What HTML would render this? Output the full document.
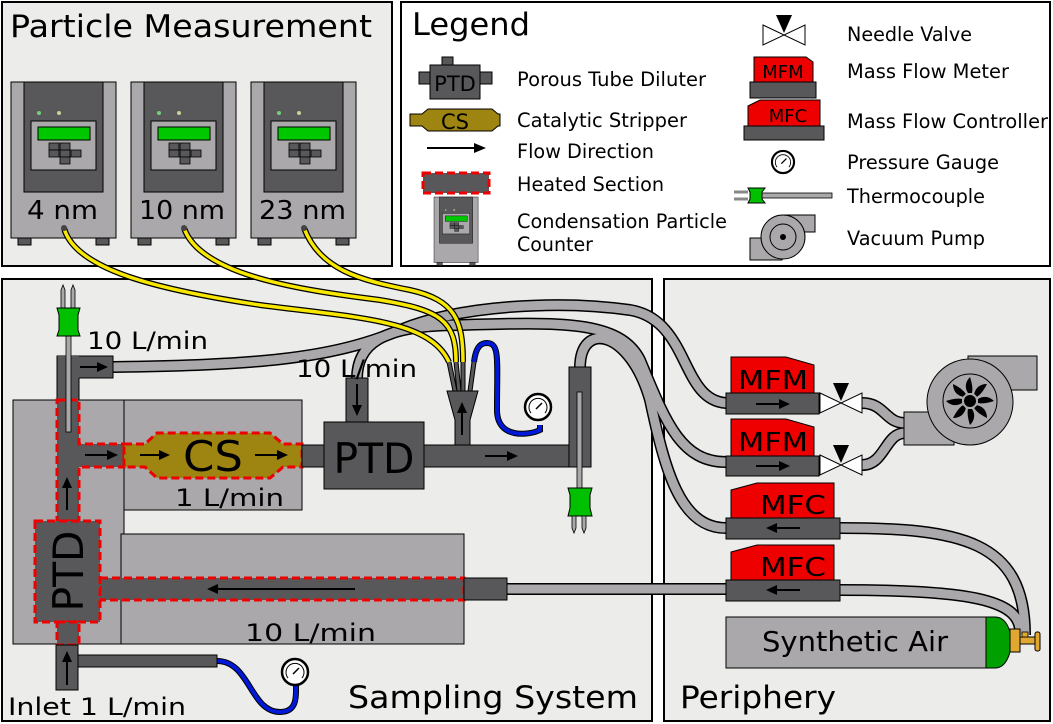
<!DOCTYPE html>
<html><head><meta charset="utf-8"><style>
html,body{margin:0;padding:0;background:#fff}
svg{display:block}
text{font-family:"DejaVu Sans","Liberation Sans",sans-serif;fill:#000}
</style></head><body>
<svg width="1053" height="724" viewBox="0 0 1053 724" xmlns="http://www.w3.org/2000/svg">
<defs>
<g id="cpc">
 <rect x="0" y="0" width="105" height="156" fill="#aaa8aa" stroke="#000" stroke-width="1"/>
 <rect x="13" y="0" width="79" height="110" fill="#58585a" stroke="#000" stroke-width="1"/>
 <circle cx="28" cy="31" r="2" fill="#7c7" />
 <circle cx="48" cy="31" r="2" fill="#cc9"/>
 <rect x="20" y="39" width="65" height="49" fill="#aaa8aa" stroke="#000" stroke-width="1"/>
 <rect x="27" y="45" width="52" height="13" fill="#00c800" stroke="#000" stroke-width="1"/>
 <rect x="38" y="61" width="10" height="7" fill="#58585a" stroke="#000" stroke-width="0.8"/>
 <rect x="49" y="61" width="10" height="7" fill="#58585a" stroke="#000" stroke-width="0.8"/>
 <rect x="38" y="68" width="10" height="7" fill="#58585a" stroke="#000" stroke-width="0.8"/>
 <rect x="49" y="68" width="10" height="7" fill="#58585a" stroke="#000" stroke-width="0.8"/>
 <rect x="60" y="68" width="10" height="7" fill="#58585a" stroke="#000" stroke-width="0.8"/>
 <rect x="49" y="75" width="10" height="7" fill="#58585a" stroke="#000" stroke-width="0.8"/>
 <rect x="7" y="156" width="13" height="7" fill="#58585a" stroke="#000" stroke-width="1"/>
 <rect x="85" y="156" width="13" height="7" fill="#58585a" stroke="#000" stroke-width="1"/>
</g>
<g id="gauge">
 <circle cx="0" cy="0" r="13" fill="#fff" stroke="#000" stroke-width="2.5"/>
 <path d="M-7,6 A9,9 0 1 1 7,6" fill="none" stroke="#000" stroke-width="1"/>
 <line x1="-2" y1="2" x2="4" y2="-4" stroke="#000" stroke-width="1.5"/>
</g>
<g id="valve">
 <path d="M0,-10 L42,10 L42,-10 L0,10 Z" fill="#fff" stroke="#000" stroke-width="1"/>
 <path d="M13,-20 L29,-20 L21,-2 Z" fill="#000"/>
</g>
</defs>

<!-- Panels -->
<rect x="2" y="2" width="390" height="264" fill="#ececea" stroke="#000" stroke-width="2"/>
<rect x="401" y="2" width="649" height="264" fill="#fff" stroke="#000" stroke-width="2"/>
<rect x="2" y="279" width="650" height="442" fill="#ececea" stroke="#000" stroke-width="2"/>
<rect x="664" y="279" width="386" height="442" fill="#ececea" stroke="#000" stroke-width="2"/>

<text x="10" y="37" font-size="31" textLength="362" lengthAdjust="spacingAndGlyphs">Particle Measurement</text>

<!-- CPCs -->
<use href="#cpc" x="11" y="82"/>
<use href="#cpc" x="131" y="82"/>
<use href="#cpc" x="251" y="82"/>
<text x="27" y="219" font-size="26" textLength="71" lengthAdjust="spacingAndGlyphs">4 nm</text>
<text x="139" y="219" font-size="26" textLength="86" lengthAdjust="spacingAndGlyphs">10 nm</text>
<text x="259" y="219" font-size="26" textLength="87" lengthAdjust="spacingAndGlyphs">23 nm</text>

<!-- Legend -->
<text x="412" y="35" font-size="31" textLength="118" lengthAdjust="spacingAndGlyphs">Legend</text>
<rect x="442" y="57" width="11" height="12" fill="#58585a" stroke="#000"/>
<rect x="419" y="72" width="73" height="12" fill="#58585a" stroke="#000"/>
<rect x="430" y="65" width="50" height="34" fill="#58585a" stroke="#000"/>
<text x="455" y="91" font-size="21" text-anchor="middle">PTD</text>
<text x="517" y="86" font-size="19.5" textLength="189" lengthAdjust="spacingAndGlyphs">Porous Tube Diluter</text>
<path d="M410,114 L422,114 L428,109 L492,109 L498,114 L500,114 L500,126 L498,126 L492,131 L428,131 L422,126 L410,126 Z" fill="#9e8410" stroke="#000"/>
<text x="455" y="129" font-size="21" text-anchor="middle">CS</text>
<text x="517" y="127" font-size="19.5" textLength="170" lengthAdjust="spacingAndGlyphs">Catalytic Stripper</text>
<line x1="427" y1="148" x2="478" y2="148" stroke="#000" stroke-width="2"/>
<path d="M486,148 L474,143 L474,153 Z" fill="#000"/>
<text x="517" y="158" font-size="19.5" textLength="137" lengthAdjust="spacingAndGlyphs">Flow Direction</text>
<rect x="423" y="173" width="66" height="20" fill="#58585a" stroke="#e00" stroke-width="3" stroke-dasharray="8,4"/>
<text x="517" y="191" font-size="19.5" textLength="147" lengthAdjust="spacingAndGlyphs">Heated Section</text>
<g transform="translate(434,197) scale(0.42)"><use href="#cpc"/></g>
<text x="517" y="228" font-size="19.5" textLength="210" lengthAdjust="spacingAndGlyphs">Condensation Particle</text>
<text x="517" y="251" font-size="19.5" textLength="76" lengthAdjust="spacingAndGlyphs">Counter</text>

<use href="#valve" x="763" y="35"/>
<text x="847" y="41" font-size="19.5" textLength="125" lengthAdjust="spacingAndGlyphs">Needle Valve</text>
<path d="M754,57 L806,57 L813,62 L813,82 L754,82 Z" fill="#e00" stroke="#000"/>
<rect x="750" y="82" width="66" height="16" fill="#58585a" stroke="#000"/>
<text x="783" y="78" font-size="18" text-anchor="middle">MFM</text>
<text x="847" y="78" font-size="19.5" textLength="162" lengthAdjust="spacingAndGlyphs">Mass Flow Meter</text>
<path d="M748,106 L760,100 L820,100 L820,126 L748,126 Z" fill="#e00" stroke="#000"/>
<rect x="744" y="126" width="80" height="14" fill="#58585a" stroke="#000"/>
<text x="788" y="122" font-size="18" text-anchor="middle">MFC</text>
<text x="847" y="128" font-size="19.5" textLength="201" lengthAdjust="spacingAndGlyphs">Mass Flow Controller</text>
<g transform="translate(783,162) scale(0.85)"><use href="#gauge"/></g>
<text x="847" y="169" font-size="19.5" textLength="152" lengthAdjust="spacingAndGlyphs">Pressure Gauge</text>
<rect x="762" y="193" width="70" height="5" fill="#aaa8aa" stroke="#000" stroke-width="0.8"/>
<path d="M748,188 L765,188 L762,192 L762,199 L765,203 L748,203 L750,199 L750,192 Z" fill="#00c000" stroke="#000"/>
<path d="M734,192 L748,192 M734,199 L748,199" stroke="#888" stroke-width="3"/>
<text x="847" y="203" font-size="19.5" textLength="138" lengthAdjust="spacingAndGlyphs">Thermocouple</text>
<rect x="750" y="238" width="32" height="22" fill="#aaa8aa" stroke="#000"/>
<rect x="783" y="215" width="32" height="17" fill="#aaa8aa" stroke="#000"/>
<circle cx="783" cy="237" r="22" fill="#aaa8aa" stroke="#000"/>
<circle cx="783" cy="237" r="13" fill="#aaa8aa" stroke="#000"/>
<circle cx="783" cy="237" r="3" fill="#000"/>
<text x="847" y="245" font-size="19.5" textLength="138" lengthAdjust="spacingAndGlyphs">Vacuum Pump</text>

<!-- light gray blocks (heated zones) -->
<rect x="13" y="400" width="111" height="244" fill="#aaa8aa" stroke="#000" stroke-width="1"/>
<rect x="124" y="400" width="178" height="110" fill="#aaa8aa" stroke="#000" stroke-width="1"/>
<rect x="121" y="534" width="343" height="110" fill="#aaa8aa" stroke="#000" stroke-width="1"/>

<!-- gray tubes -->
<g fill="none" stroke-linecap="butt">
 <g stroke="#000" stroke-width="12">
  <path d="M112,367 C250,365 330,360 400,330 C460,305 560,300 630,310 C690,320 680,400 726,403"/>
  <path d="M357,379 C357,345 380,325 460,325 C560,322 620,320 640,360 C665,420 680,462 726,462"/>
  <path d="M580,368 C580,320 630,330 650,400 C665,470 680,528 726,528"/>
  <path d="M506,589 L726,589"/>
  <path d="M840,528 C960,528 1025,540 1025,635"/>
  <path d="M840,590 C970,590 1018,600 1020,630"/>
  <path d="M862,403 C885,403 885,423 905,423"/>
  <path d="M862,465 C885,465 885,433 905,433"/>
 </g>
 <g stroke="#aaa8aa" stroke-width="9">
  <path d="M112,367 C250,365 330,360 400,330 C460,305 560,300 630,310 C690,320 680,400 726,403"/>
  <path d="M357,379 C357,345 380,325 460,325 C560,322 620,320 640,360 C665,420 680,462 726,462"/>
  <path d="M580,368 C580,320 630,330 650,400 C665,470 680,528 726,528"/>
  <path d="M506,589 L726,589"/>
  <path d="M840,528 C960,528 1025,540 1025,635"/>
  <path d="M840,590 C970,590 1018,600 1020,630"/>
  <path d="M862,403 C885,403 885,423 905,423"/>
  <path d="M862,465 C885,465 885,433 905,433"/>
 </g>
</g>

<!-- left vertical pipe & top elbow -->
<rect x="57" y="356" width="56" height="22" fill="#58585a" stroke="#000"/>
<rect x="57" y="356" width="22" height="44" fill="#58585a" stroke="none"/>
<line x1="57" y1="356" x2="57" y2="400" stroke="#000"/>
<line x1="79" y1="378" x2="79" y2="400" stroke="#000"/>
<line x1="80" y1="367" x2="100" y2="367" stroke="#000" stroke-width="2"/><path d="M108,367 L97,362 L97,372 Z"/>
<path d="M57,400 L79,400 L79,444 L124,444 L124,467 L79,467 L79,521 L57,521 Z" fill="#58585a" stroke="#e00" stroke-width="3" stroke-dasharray="8,4"/>
<line x1="67" y1="510" x2="67" y2="485" stroke="#000" stroke-width="2"/><path d="M67,477 L62,488 L72,488 Z"/>
<line x1="85" y1="455" x2="110" y2="455" stroke="#000" stroke-width="2"/><path d="M118,455 L107,450 L107,460 Z"/>
<rect x="66" y="320" width="5" height="112" fill="#aaa8aa" stroke="#000" stroke-width="0.8"/>
<path d="M61,290 L63,285 L65,290 L65,308 L61,308 Z M71,290 L73,285 L75,290 L75,308 L71,308 Z" fill="#aaa8aa" stroke="#000" stroke-width="0.8"/>
<path d="M57,308 L80,308 L78,315 L78,330 L80,336 L57,336 L59,330 L59,315 Z" fill="#00c000" stroke="#000"/>

<!-- CS -->
<path d="M124,444 L145,444 L157,433 L270,433 L283,444 L302,444 L302,467 L283,467 L270,478 L157,478 L145,467 L124,467 Z" fill="#9e8410" stroke="#e00" stroke-width="3" stroke-dasharray="8,4"/>
<text x="213" y="471" font-size="42" text-anchor="middle" textLength="60" lengthAdjust="spacingAndGlyphs">CS</text>
<line x1="140" y1="455" x2="162" y2="455" stroke="#000" stroke-width="2"/><path d="M170,455 L159,450 L159,460 Z"/>
<line x1="255" y1="455" x2="280" y2="455" stroke="#000" stroke-width="2"/><path d="M288,455 L277,450 L277,460 Z"/>
<text x="175" y="506" font-size="24" textLength="109" lengthAdjust="spacingAndGlyphs">1 L/min</text>

<!-- main horizontal pipe -->
<rect x="302" y="445" width="289" height="22" fill="#58585a" stroke="#000"/>
<rect x="569" y="367" width="22" height="100" fill="#58585a" stroke="#000"/>
<rect x="570" y="444" width="20" height="22" fill="#58585a"/>
<line x1="485" y1="456" x2="508" y2="456" stroke="#000" stroke-width="2"/><path d="M518,456 L507,451 L507,461 Z"/>
<rect x="577" y="392" width="5" height="98" fill="#aaa8aa" stroke="#000" stroke-width="0.8"/>
<path d="M568,488 L592,488 L590,495 L590,508 L592,516 L568,516 L570,508 L570,495 Z" fill="#00c000" stroke="#000"/>
<path d="M572,516 L572,528 L574,533 L576,528 L576,516 Z M582,516 L582,528 L584,533 L586,528 L586,516 Z" fill="#aaa8aa" stroke="#000" stroke-width="0.8"/>

<!-- PTD middle -->
<rect x="346" y="378" width="22" height="44" fill="#58585a" stroke="#000"/>
<line x1="357" y1="384" x2="357" y2="407" stroke="#000" stroke-width="2"/><path d="M357,416 L352,405 L362,405 Z"/>
<rect x="324" y="422" width="100" height="67" fill="#58585a" stroke="#000"/>
<text x="374" y="473" font-size="42" text-anchor="middle" textLength="81" lengthAdjust="spacingAndGlyphs">PTD</text>
<text x="296" y="377" font-size="24" textLength="121" lengthAdjust="spacingAndGlyphs">10 L/min</text>
<text x="87" y="349" font-size="24" textLength="121" lengthAdjust="spacingAndGlyphs">10 L/min</text>

<!-- funnel -->
<path d="M449,362 L455,391 M456,362 L459,391 M463,362 L463,391 M474,362 L470,391" stroke="#000" stroke-width="5"/>
<path d="M449,362 L455,391 M456,362 L459,391 M463,362 L463,391 M474,362 L470,391" stroke="#58585a" stroke-width="3"/>
<path d="M447,391 L478,391 L470,420 L470,445 L455,445 L455,420 Z" fill="#58585a" stroke="#000"/>
<line x1="462" y1="435" x2="462" y2="412" stroke="#000" stroke-width="2"/><path d="M462,402 L457,413 L467,413 Z"/>

<!-- yellow cables -->
<g fill="none">
 <g stroke="#000" stroke-width="6">
  <path d="M64,228 C75,270 160,290 260,305 C360,318 430,320 449,362"/>
  <path d="M184,228 C200,275 300,290 380,300 C440,310 456,320 456,362"/>
  <path d="M304,228 C320,270 360,280 410,290 C455,300 463,320 463,362"/>
 </g>
 <g stroke="#f8e800" stroke-width="3.5">
  <path d="M64,228 C75,270 160,290 260,305 C360,318 430,320 449,362"/>
  <path d="M184,228 C200,275 300,290 380,300 C440,310 456,320 456,362"/>
  <path d="M304,228 C320,270 360,280 410,290 C455,300 463,320 463,362"/>
 </g>
 <path d="M474,362 C476,345 482,343 487,343 C500,343 497,360 497,410 C497,440 530,435 540,430 L540,425" stroke="#000" stroke-width="6"/>
 <path d="M474,362 C476,345 482,343 487,343 C500,343 497,360 497,410 C497,440 530,435 540,430 L540,425" stroke="#0018d8" stroke-width="4"/>
 <path d="M217,661 C250,661 250,712 280,712 C298,712 296,695 296,685" stroke="#000" stroke-width="6"/>
 <path d="M217,661 C250,661 250,712 280,712 C298,712 296,695 296,685" stroke="#0018d8" stroke-width="4"/>
</g>
<use href="#gauge" x="538" y="407"/>
<use href="#gauge" x="295" y="672"/>
<circle cx="64" cy="228" r="3" fill="#444"/><circle cx="184" cy="228" r="3" fill="#444"/><circle cx="304" cy="228" r="3" fill="#444"/>

<!-- bottom PTD & pipe -->
<rect x="100" y="578" width="364" height="22" fill="#58585a" stroke="#e00" stroke-width="3" stroke-dasharray="8,4"/>
<rect x="464" y="578" width="43" height="22" fill="#58585a" stroke="#000"/>
<line x1="355" y1="589" x2="215" y2="589" stroke="#000" stroke-width="2"/><path d="M207,589 L218,584 L218,594 Z"/>
<rect x="57" y="521" width="22" height="20" fill="#58585a"/>
<rect x="35" y="521" width="65" height="101" fill="#58585a" stroke="#e00" stroke-width="3" stroke-dasharray="8,4"/>
<text transform="translate(83,571) rotate(-90)" font-size="42" text-anchor="middle" textLength="81" lengthAdjust="spacingAndGlyphs">PTD</text>
<rect x="57" y="622" width="22" height="23" fill="#58585a" stroke="#e00" stroke-width="3" stroke-dasharray="8,4"/>
<rect x="78" y="655" width="139" height="12" fill="#58585a" stroke="#000"/>
<rect x="56" y="645" width="22" height="45" fill="#58585a" stroke="#000"/>
<line x1="67" y1="685" x2="67" y2="660" stroke="#000" stroke-width="2"/><path d="M67,651 L62,662 L72,662 Z"/>
<text x="245" y="641" font-size="24" textLength="131" lengthAdjust="spacingAndGlyphs">10 L/min</text>
<text x="8" y="715" font-size="24" textLength="178" lengthAdjust="spacingAndGlyphs">Inlet 1 L/min</text>
<text x="348" y="708" font-size="31" textLength="290" lengthAdjust="spacingAndGlyphs">Sampling System</text>
<text x="680" y="708" font-size="31" textLength="156" lengthAdjust="spacingAndGlyphs">Periphery</text>

<!-- Periphery devices -->
<path d="M731,357 L786,357 L814,365 L814,393 L731,393 Z" fill="#e00" stroke="#000"/>
<rect x="726" y="393" width="93" height="21" fill="#58585a" stroke="#000"/>
<text x="738" y="389" font-size="26" textLength="70" lengthAdjust="spacingAndGlyphs">MFM</text>
<line x1="756" y1="404" x2="780" y2="404" stroke="#000" stroke-width="2"/><path d="M790,404 L779,399 L779,409 Z"/>
<use href="#valve" x="820" y="403"/>

<path d="M731,419 L786,419 L814,427 L814,456 L731,456 Z" fill="#e00" stroke="#000"/>
<rect x="726" y="456" width="93" height="20" fill="#58585a" stroke="#000"/>
<text x="738" y="451" font-size="26" textLength="70" lengthAdjust="spacingAndGlyphs">MFM</text>
<line x1="756" y1="466" x2="780" y2="466" stroke="#000" stroke-width="2"/><path d="M790,466 L779,461 L779,471 Z"/>
<use href="#valve" x="820" y="465"/>

<path d="M731,490 L757,483 L834,483 L834,518 L731,518 Z" fill="#e00" stroke="#000"/>
<rect x="726" y="518" width="114" height="21" fill="#58585a" stroke="#000"/>
<text x="760" y="514" font-size="26" textLength="66" lengthAdjust="spacingAndGlyphs">MFC</text>
<line x1="800" y1="528" x2="775" y2="528" stroke="#000" stroke-width="2"/><path d="M766,528 L777,523 L777,533 Z"/>

<path d="M731,552 L757,545 L834,545 L834,580 L731,580 Z" fill="#e00" stroke="#000"/>
<rect x="726" y="580" width="114" height="21" fill="#58585a" stroke="#000"/>
<text x="760" y="576" font-size="26" textLength="66" lengthAdjust="spacingAndGlyphs">MFC</text>
<line x1="800" y1="590" x2="775" y2="590" stroke="#000" stroke-width="2"/><path d="M766,590 L777,585 L777,595 Z"/>

<!-- pump -->
<rect x="904" y="412" width="50" height="33" fill="#aaa8aa" stroke="#000"/>
<rect x="968" y="356" width="69" height="34" fill="#aaa8aa" stroke="#000"/>
<circle cx="970" cy="402" r="43" fill="#aaa8aa" stroke="#000"/>
<circle cx="970" cy="401" r="27" fill="#aaa8aa" stroke="#000"/>
<g transform="translate(970,401)" fill="#000">
 <circle r="6"/>
 <g id="blade"><path d="M-2,-8 C-6,-14 -4,-20 0,-24 C2,-18 3,-12 2,-8 Z"/></g>
 <use href="#blade" transform="rotate(45)"/><use href="#blade" transform="rotate(90)"/>
 <use href="#blade" transform="rotate(135)"/><use href="#blade" transform="rotate(180)"/>
 <use href="#blade" transform="rotate(225)"/><use href="#blade" transform="rotate(270)"/>
 <use href="#blade" transform="rotate(315)"/>
</g>

<!-- Synthetic air -->
<rect x="726" y="617" width="260" height="51" fill="#aaa8aa" stroke="#000"/>
<path d="M986,617 L995,617 C1005,617 1011,628 1011,642 C1011,656 1005,668 995,668 L986,668 Z" fill="#00a000" stroke="#000"/>
<rect x="1010" y="629" width="10" height="23" fill="#e0a830" stroke="#000"/>
<rect x="1020" y="637" width="16" height="7" fill="#e0a830" stroke="#000"/>
<rect x="1035" y="632" width="5" height="19" rx="2" fill="#e0a830" stroke="#000"/>
<rect x="1022" y="632" width="6" height="5" fill="#e0a830" stroke="#000" stroke-width="0.8"/>
<text x="762" y="651" font-size="28" textLength="186" lengthAdjust="spacingAndGlyphs">Synthetic Air</text>
</svg>
</body></html>
